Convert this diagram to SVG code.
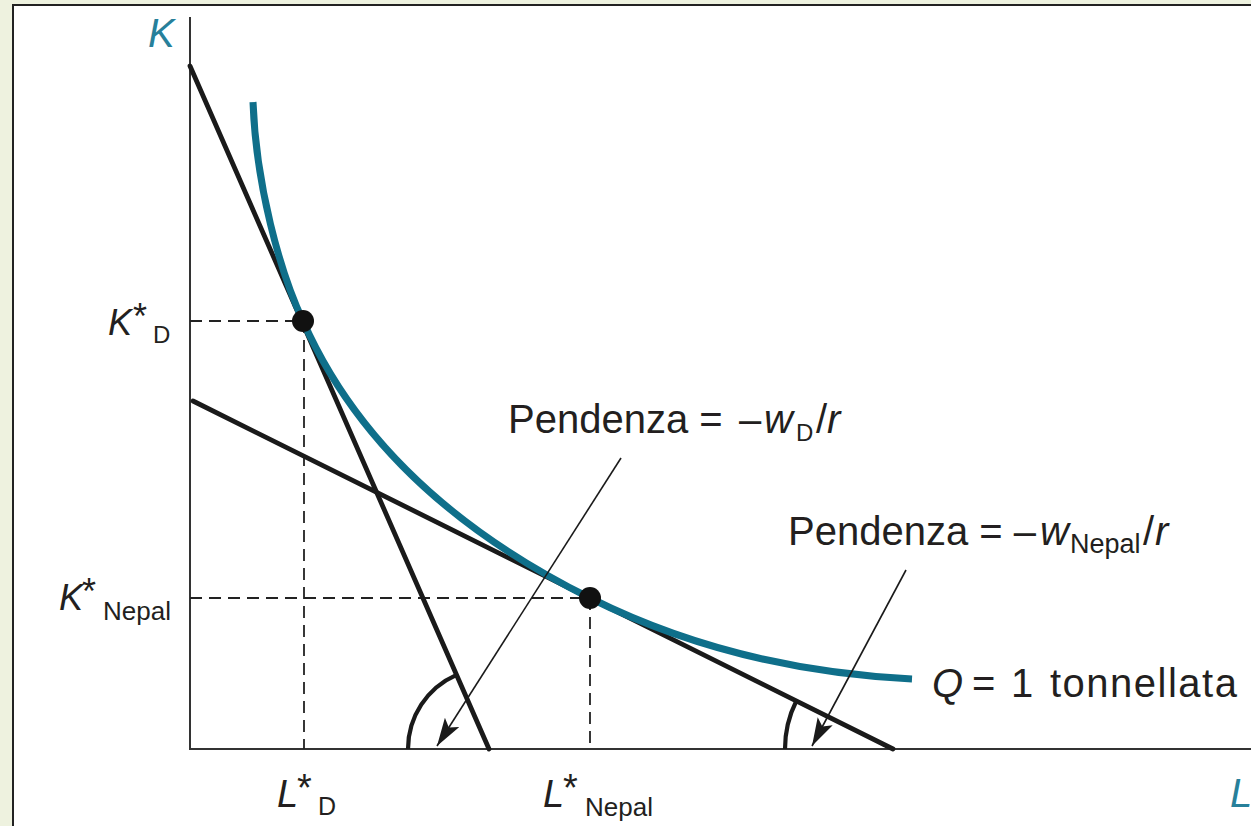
<svg xmlns="http://www.w3.org/2000/svg" width="1251" height="826" viewBox="0 0 1251 826">
  <style>
    .txt { font-family: "Liberation Sans", Arial, sans-serif; fill: #231f20; }
    .it { font-style: italic; }
    .teal { fill: #27809a; }
    .axis { stroke: #333; stroke-width: 2; fill: none; }
    .budget { stroke: #1a1a1a; stroke-width: 4.8; fill: none; stroke-linecap: round; }
    .dash { stroke: #222; stroke-width: 1.8; stroke-dasharray: 12 7; fill: none; }
    .iso { stroke: #0f6f8a; stroke-width: 7; fill: none; }
    .arc { stroke: #1a1a1a; stroke-width: 4.2; fill: none; }
    .ptr { stroke: #1a1a1a; stroke-width: 1.6; fill: none; }
    .dot { fill: #111; }
  </style>
  <defs>
    <marker id="ah" markerUnits="userSpaceOnUse" markerWidth="32" markerHeight="20" refX="28" refY="8.5" orient="auto">
      <path d="M0,0 L28,8.5 L0,17 L6,8.5 Z" fill="#1a1a1a"/>
    </marker>
  </defs>

  <!-- background & frame -->
  <rect x="0" y="0" width="1251" height="826" fill="#eef2df"/>
  <rect x="13" y="5" width="1240" height="825" fill="#ffffff" stroke="#222" stroke-width="2"/>

  <g id="axes">
    <line class="axis" x1="190" y1="17" x2="190" y2="749"/>
    <line class="axis" x1="189" y1="749" x2="1251" y2="749"/>
    <text class="txt it teal" x="148" y="47" font-size="40">K</text>
    <text class="txt it teal" x="1230" y="807" font-size="40">L</text>
  </g>

  <g id="guides">
    <line class="dash" x1="190" y1="321" x2="303" y2="321"/>
    <line class="dash" x1="304" y1="321" x2="304" y2="749"/>
    <line class="dash" x1="190" y1="598" x2="590" y2="598"/>
    <line class="dash" x1="590" y1="598" x2="590" y2="749"/>
  </g>

  <g id="budget-D">
    <line class="budget" x1="190" y1="66" x2="489" y2="749"/>
    <path class="arc" d="M408,749 A81,81 0 0 1 456.6,674.8"/>
  </g>

  <g id="budget-Nepal">
    <line class="budget" x1="193" y1="401" x2="893" y2="749"/>
    <path class="arc" d="M785,749 A108,108 0 0 1 796.4,700.7"/>
  </g>

  <g id="isoquant">
    <path class="iso" d="M253,102 C256,185 280,272 303,321 Q379,493 590,598 Q734,670 912,679"/>
    <text class="txt" y="697" font-size="40"><tspan class="it" x="932">Q</tspan><tspan x="972">=</tspan><tspan x="1011">1</tspan><tspan x="1050" letter-spacing="1.5">tonnellata</tspan></text>
  </g>

  <g id="point-D">
    <circle class="dot" cx="303" cy="321" r="11"/>
    <text class="txt" font-size="36"><tspan class="it" x="108" y="335">K</tspan><tspan x="133" y="329">*</tspan><tspan x="153" y="343" font-size="24">D</tspan></text>
    <text class="txt" font-size="38"><tspan class="it" x="277" y="807">L</tspan><tspan x="297" y="801">*</tspan><tspan x="318" y="815" font-size="25">D</tspan></text>
  </g>

  <g id="point-Nepal">
    <circle class="dot" cx="590" cy="598" r="11"/>
    <text class="txt" font-size="36"><tspan class="it" x="59" y="610">K</tspan><tspan x="82" y="604">*</tspan><tspan x="103" y="620" font-size="26">Nepal</tspan></text>
    <text class="txt" font-size="38"><tspan class="it" x="543" y="807">L</tspan><tspan x="563" y="801">*</tspan><tspan x="585" y="816" font-size="26">Nepal</tspan></text>
  </g>

  <g id="label-slope-D">
    <text class="txt" font-size="40"><tspan x="508" y="433">Pendenza =</tspan><tspan x="739" y="433">–</tspan><tspan class="it" x="764" y="433">w</tspan><tspan x="796" y="441" font-size="24">D</tspan><tspan x="816" y="433">/</tspan><tspan class="it" x="827" y="433">r</tspan></text>
  </g>

  <g id="label-slope-Nepal">
    <text class="txt" font-size="40"><tspan x="788" y="545">Pendenza = –</tspan><tspan class="it" x="1040" y="545">w</tspan><tspan x="1070" y="553" font-size="27">Nepal</tspan><tspan x="1143" y="545">/</tspan><tspan class="it" x="1155" y="545">r</tspan></text>
  </g>

  <g id="connectors">
    <line class="ptr" x1="621" y1="458" x2="437" y2="746" marker-end="url(#ah)"/>
    <line class="ptr" x1="906" y1="570" x2="812" y2="746" marker-end="url(#ah)"/>
  </g>
</svg>
